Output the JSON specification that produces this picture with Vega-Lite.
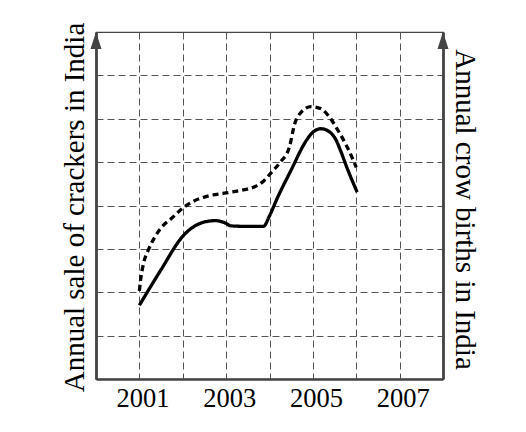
{
  "$schema": "https://vega.github.io/schema/vega-lite/v6.json",
  "width": 347,
  "height": 347,
  "autosize": {"type": "none"},
  "padding": {"left": 96, "top": 32, "right": 83, "bottom": 53},
  "background": "white",
  "config": {
    "font": "Liberation Serif",
    "view": {"stroke": "#444", "strokeWidth": 1.2}
  },
  "layer": [
    {
      "data": {
        "values": [
          {"year": 2001.0, "value": 1.70, "series": "crackers"},
          {"year": 2001.5, "value": 2.52, "series": "crackers"},
          {"year": 2002.0, "value": 3.29, "series": "crackers"},
          {"year": 2002.25, "value": 3.51, "series": "crackers"},
          {"year": 2002.5, "value": 3.62, "series": "crackers"},
          {"year": 2002.75, "value": 3.65, "series": "crackers"},
          {"year": 2002.95, "value": 3.61, "series": "crackers"},
          {"year": 2003.12, "value": 3.53, "series": "crackers"},
          {"year": 2003.4, "value": 3.52, "series": "crackers"},
          {"year": 2003.86, "value": 3.52, "series": "crackers"},
          {"year": 2004.0, "value": 3.76, "series": "crackers"},
          {"year": 2004.17, "value": 4.15, "series": "crackers"},
          {"year": 2004.5, "value": 4.82, "series": "crackers"},
          {"year": 2004.85, "value": 5.5, "series": "crackers"},
          {"year": 2005.0, "value": 5.69, "series": "crackers"},
          {"year": 2005.19, "value": 5.77, "series": "crackers"},
          {"year": 2005.38, "value": 5.70, "series": "crackers"},
          {"year": 2005.54, "value": 5.50, "series": "crackers"},
          {"year": 2005.62, "value": 5.31, "series": "crackers"},
          {"year": 2005.81, "value": 4.81, "series": "crackers"},
          {"year": 2006.02, "value": 4.31, "series": "crackers"},
          {"year": 2001.0, "value": 2.03, "series": "crows"},
          {"year": 2001.03, "value": 2.30, "series": "crows"},
          {"year": 2001.09, "value": 2.64, "series": "crows"},
          {"year": 2001.21, "value": 2.98, "series": "crows"},
          {"year": 2001.36, "value": 3.28, "series": "crows"},
          {"year": 2001.55, "value": 3.54, "series": "crows"},
          {"year": 2001.75, "value": 3.71, "series": "crows"},
          {"year": 2002.0, "value": 3.94, "series": "crows"},
          {"year": 2002.25, "value": 4.10, "series": "crows"},
          {"year": 2002.55, "value": 4.21, "series": "crows"},
          {"year": 2003.0, "value": 4.29, "series": "crows"},
          {"year": 2003.4, "value": 4.36, "series": "crows"},
          {"year": 2003.63, "value": 4.42, "series": "crows"},
          {"year": 2003.86, "value": 4.56, "series": "crows"},
          {"year": 2004.05, "value": 4.77, "series": "crows"},
          {"year": 2004.25, "value": 5.0, "series": "crows"},
          {"year": 2004.46, "value": 5.35, "series": "crows"},
          {"year": 2004.58, "value": 5.88, "series": "crows"},
          {"year": 2004.73, "value": 6.15, "series": "crows"},
          {"year": 2004.96, "value": 6.28, "series": "crows"},
          {"year": 2005.19, "value": 6.23, "series": "crows"},
          {"year": 2005.38, "value": 6.04, "series": "crows"},
          {"year": 2005.58, "value": 5.73, "series": "crows"},
          {"year": 2005.81, "value": 5.31, "series": "crows"},
          {"year": 2006.0, "value": 4.88, "series": "crows"}
        ]
      },
      "mark": {"type": "line", "interpolate": "monotone", "strokeWidth": 3.3, "color": "black"},
      "encoding": {
        "x": {
          "field": "year",
          "type": "quantitative",
          "scale": {"domain": [2000, 2008], "nice": false, "zero": false},
          "axis": {
            "title": null,
            "values": [2001, 2002, 2003, 2004, 2005, 2006, 2007],
            "format": "d",
            "labelExpr": "datum.value % 2 == 1 ? datum.label : ''",
            "labelFontSize": 26.5,
            "labelColor": "black",
            "labelBaseline": "alphabetic",
            "labelPadding": 27,
            "labelOffset": 3,
            "labelFlush": false,
            "labelOverlap": false,
            "ticks": false,
            "tickSize": 0,
            "domainColor": "#444",
            "domainWidth": 2.4,
            "grid": true,
            "gridColor": "#555",
            "gridDash": [7, 4],
            "gridWidth": 1
          }
        },
        "y": {
          "field": "value",
          "type": "quantitative",
          "scale": {"domain": [0, 8], "nice": false, "zero": true},
          "axis": {
            "orient": "left",
            "title": "Annual sale of crackers in India",
            "titleFontSize": 29,
            "titleFontWeight": "normal",
            "titleColor": "black",
            "titleAngle": 270,
            "titleAlign": "center",
            "titleBaseline": "alphabetic",
            "titleX": -13,
            "titleY": 175,
            "values": [1, 2, 3, 4, 5, 6, 7],
            "labels": false,
            "ticks": false,
            "tickSize": 0,
            "domainColor": "#444",
            "domainWidth": 2.8,
            "grid": true,
            "gridColor": "#555",
            "gridDash": [7, 4],
            "gridWidth": 1
          }
        },
        "strokeDash": {
          "field": "series",
          "type": "nominal",
          "scale": {"domain": ["crackers", "crows"], "range": [[1, 0], [6, 4]]},
          "legend": null
        }
      }
    },
    {
      "data": {"values": [{"year": 2000, "value": 8}, {"year": 2008, "value": 8}]},
      "mark": {
        "type": "point",
        "shape": "M0,0L0.65,2L-0.65,2Z",
        "size": 289,
        "filled": true,
        "color": "#444",
        "opacity": 1
      },
      "encoding": {
        "x": {"field": "year", "type": "quantitative"},
        "y": {
          "field": "value",
          "type": "quantitative",
          "axis": {
            "orient": "right",
            "title": "Annual crow births in India",
            "titleFontSize": 29,
            "titleFontWeight": "normal",
            "titleColor": "black",
            "titleAngle": 90,
            "titleAlign": "center",
            "titleBaseline": "alphabetic",
            "titleX": 12,
            "titleY": 177,
            "labels": false,
            "ticks": false,
            "tickSize": 0,
            "grid": false,
            "domainColor": "#444",
            "domainWidth": 2.8
          }
        }
      }
    }
  ],
  "resolve": {"axis": {"y": "independent"}}
}
